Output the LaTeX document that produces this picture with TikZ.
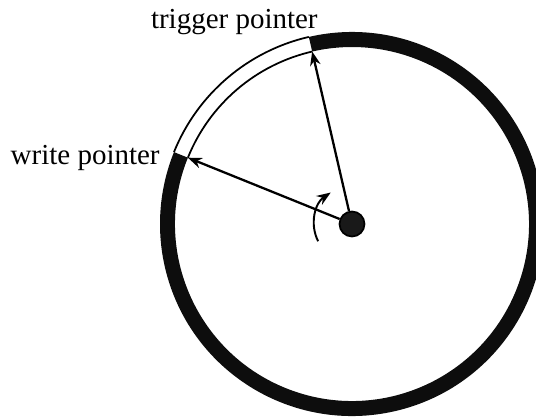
\documentclass[tikz,border=0pt]{standalone}
\usepackage{fontspec}
\setmainfont{Liberation Serif}
\usetikzlibrary{arrows.meta}
\begin{document}
\begin{tikzpicture}[scale=0.02,>={Stealth[length=8pt,width=6pt]}]
\useasboundingbox (-352,-194) rectangle (184,224);
% ring: filled part from trigger pointer round to write pointer
\fill[black!95] (103:192) arc (103:-202:192) -- (-202:177) arc (-202:103:177) -- cycle;
\draw[line width=1pt] (103:192) arc (103:158:192);
\draw[line width=1pt] (103:177) arc (103:158:177);
\node[circle,draw,fill=black!90,line width=1pt,inner sep=0,minimum size=0.5cm] (hub) at (0,0) {};
\coordinate (trig) at (103:177);
\coordinate (wrt) at (158:177);
\draw[->,line width=1.3pt] (hub)--(trig);
\draw[->,line width=1.3pt] (hub)--(wrt);
\draw[->,line width=1.1pt] (207:38) arc (207:124:38);
\node[anchor=base east,font=\fontsize{16.5}{20}\selectfont,inner sep=0] (triglabel) at (-34,196) {trigger pointer};
\node[anchor=base east,font=\fontsize{16.5}{20}\selectfont,inner sep=0] (wrtlabel) at (-192,60) {write pointer};
\end{tikzpicture}
\end{document}
